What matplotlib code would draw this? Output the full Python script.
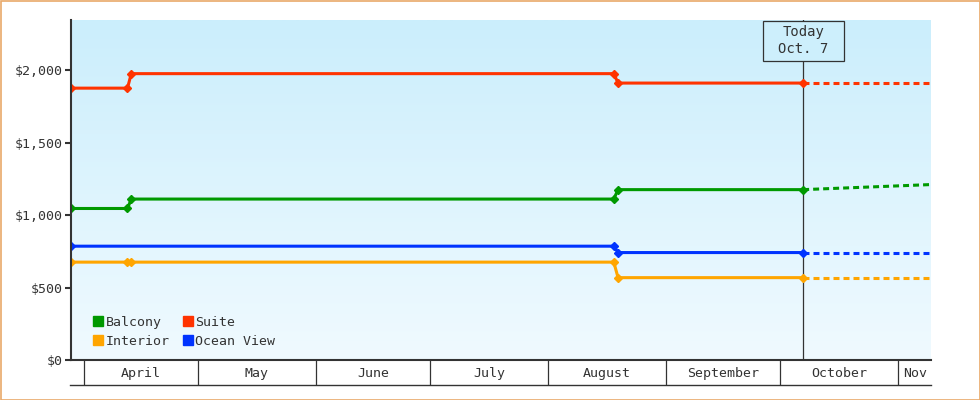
import matplotlib
matplotlib.use('Agg')
import matplotlib.pyplot as plt
import matplotlib.dates as mdates
from matplotlib.colors import LinearSegmentedColormap
from matplotlib.lines import Line2D
from matplotlib.patches import Rectangle
import numpy as np
import pandas as pd

# price history (solid lines)
dates = ['2024-03-28 16:00', '2024-04-12 12:00', '2024-04-13 12:00',
         '2024-08-18 06:00', '2024-08-19 09:00', '2024-10-07']
suite = [1875, 1875, 1975, 1975, 1910, 1910]
balcony = [1045, 1045, 1110, 1110, 1175, 1175]
interior = [675, 675, 675, 675, 568, 568]

ocean_dates = ['2024-03-28 16:00', '2024-08-18 06:00', '2024-08-19 09:00', '2024-10-07']
ocean_view = [785, 785, 741, 741]

# forecast (dashed lines)
forecast_dates = ['2024-10-07', '2024-11-09 14:00']
suite_fc = [1910, 1910]
balcony_fc = [1175, 1210]
interior_fc = [568, 568]
ocean_fc = [741, 741]

today = '2024-10-07'
today_label = 'Today\nOct. 7'
months = ['April', 'May', 'June', 'July', 'August', 'September', 'October', 'Nov']
month_starts = ['2024-04-01', '2024-05-01', '2024-06-01', '2024-07-01',
                '2024-08-01', '2024-09-01', '2024-10-01', '2024-11-01']

colors = {'Balcony': '#009900', 'Suite': '#ff3300',
          'Interior': '#ffa500', 'Ocean View': '#0033ff'}
ink = '#333333'

plt.rcParams['font.family'] = ['DejaVu Sans Mono']
plt.rcParams['font.size'] = 9.5
plt.rcParams['lines.scale_dashes'] = False


def d(s):
    return mdates.date2num(pd.Timestamp(s))


fig = plt.figure(figsize=(9.8, 4.0), dpi=100)
ax = fig.add_axes([71 / 980, 40 / 400, 860 / 980, 340 / 400])

xmin = d(dates[0])
xmax = d(forecast_dates[-1])
ymax = 2345

# gradient background
grad = LinearSegmentedColormap.from_list('bg', ['#f0faff', '#cbeefc'])
ax.imshow(np.linspace(0, 1, 256).reshape(-1, 1), cmap=grad, origin='lower',
          extent=[xmin, xmax, 0, ymax], aspect='auto', zorder=0)

x = [d(s) for s in dates]
xo = [d(s) for s in ocean_dates]
xf = [d(s) for s in forecast_dates]

series = [('Suite', x, suite, suite_fc), ('Balcony', x, balcony, balcony_fc),
          ('Ocean View', xo, ocean_view, ocean_fc), ('Interior', x, interior, interior_fc)]
for name, xs, ys, fc in series:
    c = colors[name]
    ax.plot(xs, ys, color=c, lw=2.2, marker='D', ms=4.3, zorder=4)
    ax.plot(xf, fc, color=c, lw=2.2, linestyle=(0, (4.3, 2.9)), zorder=3)

ax.set_xlim(xmin, xmax)
ax.set_ylim(0, ymax)

# today marker: line plus a box hanging from the top of the plot area
ax.axvline(d(today), color=ink, lw=0.9, zorder=2)
tx, ty = ax.transData.transform((d(today), ymax))
box_w, box_h = 81, 40
ax.add_artist(Rectangle((tx - box_w / 2, ty - box_h - 0.5), box_w, box_h, transform=None,
                        fc='#cdeffc', ec=ink, lw=0.9, zorder=5))
ax.text(tx, ty - box_h / 2 - 0.5, today_label, transform=None, ha='center', va='center',
        color=ink, fontsize=10, linespacing=1.3, zorder=6)

# y axis
ax.set_yticks([0, 500, 1000, 1500, 2000])
ax.yaxis.set_major_formatter(plt.FuncFormatter(lambda v, p: '${:,.0f}'.format(v)))
ax.tick_params(axis='y', direction='out', length=4.3, width=1.5, color=ink,
               labelcolor=ink, pad=1.5)

# x axis: month cells
starts = [d(s) for s in month_starts]
ends = starts[1:] + [xmax]
mids = [(a + min(b, xmax)) / 2 for a, b in zip(starts, ends)]
ax.set_xticks(starts)
ax.set_xticklabels([])
ax.set_xticks(mids, minor=True)
ax.set_xticklabels(months, minor=True)
ax.tick_params(axis='x', which='major', direction='out', length=18, width=0.9, color=ink)
ax.tick_params(axis='x', which='minor', length=0, pad=5, labelcolor=ink)
ax.plot([-0.001, 1], [-25 / 340, -25 / 340], transform=ax.transAxes, color=ink,
        lw=1, clip_on=False)

for side in ['top', 'right']:
    ax.spines[side].set_visible(False)
for side in ['left', 'bottom']:
    ax.spines[side].set_color(ink)
    ax.spines[side].set_linewidth(1.5)
    ax.spines[side].set_zorder(6)

# legend
order = ['Balcony', 'Interior', 'Suite', 'Ocean View']
handles = [Line2D([], [], ls='none', marker='s', ms=7.9, color=colors[n]) for n in order]
ax.legend(handles, order, ncol=2, loc='lower left', bbox_to_anchor=(0.0256, 0.035),
          frameon=False, handlelength=0.8, handletextpad=0.15, columnspacing=1.0,
          labelspacing=0.5, borderpad=0, borderaxespad=0, labelcolor=ink)

# outer frame
fig.patches.append(Rectangle((0.5 / 980, 0.5 / 400), 979 / 980, 399 / 400,
                             transform=fig.transFigure, fill=False,
                             ec='#e9a96a', lw=1.2))

fig.savefig('out.png', dpi=100)
